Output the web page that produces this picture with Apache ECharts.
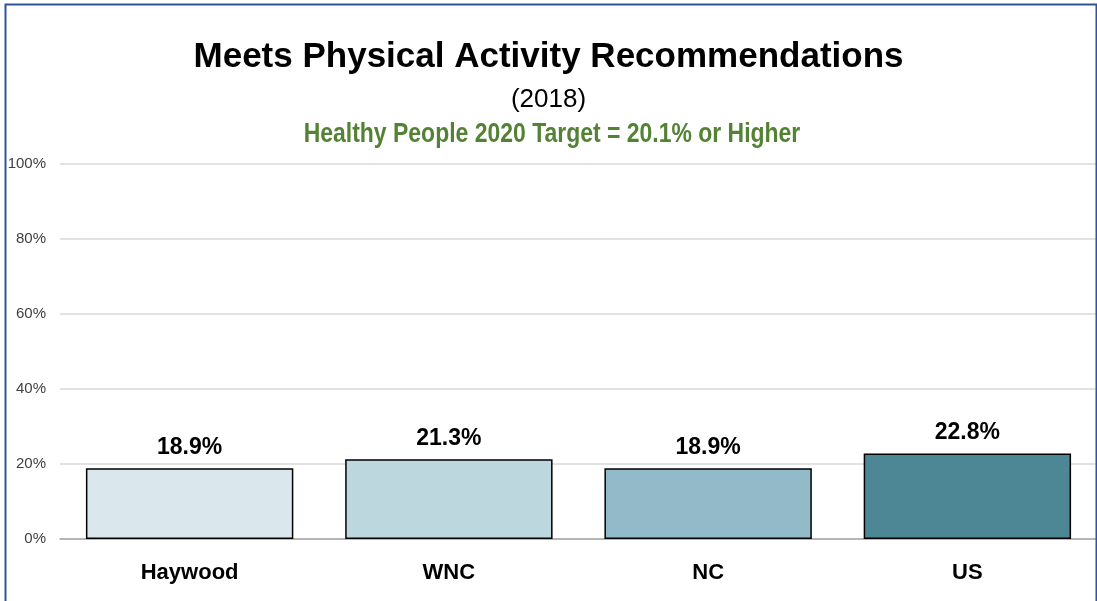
<!DOCTYPE html>
<html>
<head>
<meta charset="utf-8">
<script src="https://cdn.jsdelivr.net/npm/echarts@6/dist/echarts.min.js"></script>
<style>
html,body{margin:0;padding:0;background:#fff;}
#c{width:1097px;height:601px;}
</style>
</head>
<body>
<div id="c"></div>
<script>
var categories = ["Haywood", "WNC", "NC", "US"];
var values = [18.9, 21.3, 18.9, 22.8];
var barColors = ["#DAE7EC", "#BDD7DE", "#92BAC8", "#4D8796"];
var yTicks = [0, 20, 40, 60, 80, 100];
var titleText = 'Meets Physical Activity Recommendations';
var yearText = '(2018)';
var targetText = 'Healthy People 2020 Target = 20.1% or Higher';

var FONT = '"Liberation Sans", Arial, sans-serif';
var chart = echarts.init(document.getElementById('c'));
chart.setOption({
  animation: false,
  backgroundColor: '#ffffff',
  title: [
    {text: titleText, left: 'center', top: 35,
     textStyle: {fontFamily: FONT, fontWeight: 'bold', fontSize: 35, color: '#000'}},
    {text: yearText, left: 'center', top: 82,
     textStyle: {fontFamily: FONT, fontWeight: 'normal', fontSize: 26, color: '#000'}}
  ],
  graphic: [
    {type: 'rect', left: 3, top: 2, z: 100, silent: true,
     shape: {width: 1091, height: 700},
     style: {fill: 'none', stroke: '#2F5597', lineWidth: 2}},
    {type: 'text', x: 552, y: 134, scaleX: 0.82, silent: true,
     style: {text: targetText, x: 0, y: 0, align: 'center', verticalAlign: 'middle',
       font: 'bold 28px "Liberation Sans", Arial, sans-serif', fill: '#548235'}}
  ],
  grid: {left: 60, right: 0, top: 164, bottom: 62},
  xAxis: {
    type: 'category', data: categories,
    axisTick: {show: false},
    axisLine: {lineStyle: {color: '#A6A6A6', width: 1.5}},
    axisLabel: {margin: 23, fontFamily: FONT, fontWeight: 'bold', fontSize: 22, color: '#000'}
  },
  yAxis: {
    type: 'value', min: 0, max: 100, interval: 20,
    axisLine: {show: false}, axisTick: {show: false},
    splitLine: {lineStyle: {color: '#D9D9D9', width: 1.5}},
    axisLabel: {margin: 14, fontFamily: FONT, fontSize: 15, color: '#404040',
      formatter: function (v) { return yTicks.indexOf(v) >= 0 ? v + '%' : ''; }}
  },
  series: [{
    type: 'bar', barCategoryGap: '20%',
    data: values.map(function (v, i) {
      return {value: v, itemStyle: {color: barColors[i]}};
    }),
    itemStyle: {borderColor: '#000', borderWidth: 1.5},
    label: {show: true, position: 'top', distance: 9,
      fontFamily: FONT, fontWeight: 'bold', fontSize: 23, color: '#000',
      formatter: function (p) { return p.value.toFixed(1) + '%'; }}
  }]
});
</script>
</body>
</html>
